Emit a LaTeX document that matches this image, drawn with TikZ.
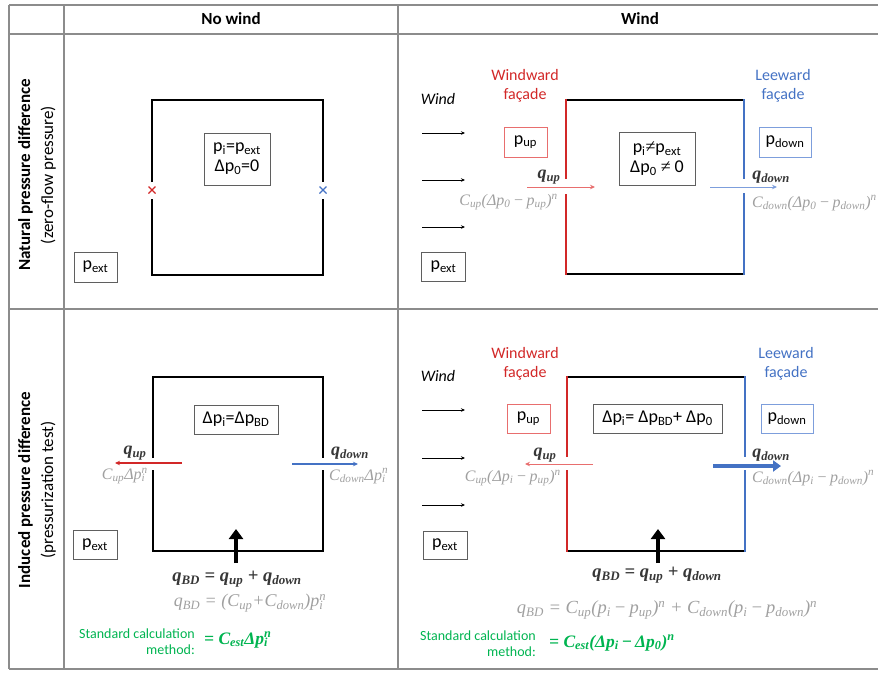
\documentclass[tikz,border=0pt]{standalone}
\usepackage[no-math]{fontspec}
\setmainfont{Carlito}
\newfontfamily\mserif{Liberation Serif}
\usetikzlibrary{arrows.meta}
\definecolor{tblgray}{RGB}{140,140,140}
\definecolor{wred}{RGB}{210,40,40}
\definecolor{lred}{RGB}{232,110,110}
\definecolor{wblue}{RGB}{68,114,196}
\definecolor{lblue}{RGB}{125,158,220}
\definecolor{fgray}{RGB}{160,160,160}
\definecolor{boxgray}{RGB}{95,95,95}
\definecolor{dgray}{RGB}{55,55,55}
\definecolor{sgreen}{RGB}{0,180,80}
\newcommand\psub[1]{\textsubscript{#1}}
\newcommand\psup[1]{\textsuperscript{#1}}
\newcommand\subsup[2]{\makebox[0pt][l]{\psub{#1}}\psup{#2}}
\newcommand\mminus{\,−\,}
\tikzset{
  tbl/.style={draw=tblgray, line width=1.3pt},
  wall/.style={line width=2pt, line join=miter},
  ibox/.style={draw=boxgray, line width=0.9pt, font=\fontsize{18}{20}\selectfont, align=center, inner sep=0pt},
  pbox/.style={ibox},
  hdr/.style={font=\fontsize{17}{20}\selectfont\bfseries},
  side/.style={rotate=90, align=center, font=\fontsize{17}{23}\selectfont},
  fac/.style={align=center, font=\fontsize{16}{19}\selectfont},
  windlab/.style={font=\fontsize{16}{19}\selectfont\itshape},
  fml/.style={text=fgray, font=\mserif\itshape\fontsize{16}{18}\selectfont, inner sep=0pt},
  bigfml/.style={fml, font=\mserif\itshape\fontsize{18.5}{20}\selectfont},
  qlab/.style={text=dgray, font=\mserif\bfseries\itshape\fontsize{18}{20}\selectfont, inner sep=0pt},
  qbd/.style={qlab, font=\mserif\bfseries\itshape\fontsize{18.5}{20}\selectfont},
  grn/.style={text=sgreen, font=\fontsize{14}{16}\selectfont, inner sep=0pt},
  grnf/.style={text=sgreen, font=\mserif\bfseries\itshape\fontsize{17.5}{19}\selectfont, inner sep=0pt},
  windarr/.style={line width=0.8pt, -{Stealth[length=4pt,width=3.5pt]}},
  thinarr/.style={line width=1pt, -{Stealth[length=5pt,width=4.5pt]}},
  bigarr/.style={line width=4pt, -{Triangle[length=10pt,width=14pt]}},
}
\begin{document}
\begin{tikzpicture}[x=1pt,y=-1pt]
\useasboundingbox (0,0) rectangle (878,673);
% ---------- table ----------
\draw[tbl] (9,5) -- (878,5);
\draw[tbl] (9,34) -- (878,34);
\draw[tbl] (9,309) -- (878,309);
\draw[tbl] (9,669) -- (878,669);
\draw[tbl] (9,5) -- (9,669);
\draw[tbl] (64,5) -- (64,669);
\draw[tbl] (398,5) -- (398,669);
\node[hdr] (hnowind) at (231,19) {No wind};
\node[hdr] (hwind) at (640,19) {Wind};
\node[side] (row1) at (37,175) {\textbf{Natural pressure difference}\\(zero-flow pressure)};
\node[side] (row2) at (37,490) {\textbf{Induced pressure difference}\\(pressurization test)};

% ---------- top-left: no wind, natural ----------
\draw[wall] (152,182) -- (152,100) -- (323,100) -- (323,182);
\draw[wall] (152,199) -- (152,275) -- (323,275) -- (323,199);
\draw[wred, line width=1.2pt] (148.5,186.5) -- (155.5,193.5) (148.5,193.5) -- (155.5,186.5);
\draw[wblue, line width=1.2pt] (319.5,186.5) -- (326.5,193.5) (319.5,193.5) -- (326.5,186.5);
\node[ibox, minimum width=66pt, minimum height=52pt] (tlin) at (237,159) {p\psub{i}=p\psub{ext}\\Δp\psub{0}=0};
\node[pbox, minimum width=43pt, minimum height=30pt] (tlext) at (95.5,267) {p\psub{ext}};

% ---------- top-right: wind, natural ----------
\node[windlab] (trwind) at (438,99) {Wind};
\coordinate (trw1a) at (422,133); \coordinate (trw1b) at (465,133);
\coordinate (trw2a) at (422,180); \coordinate (trw2b) at (465,180);
\coordinate (trw3a) at (422,227); \coordinate (trw3b) at (465,227);
\draw[windarr] (trw1a) -- (trw1b);
\draw[windarr] (trw2a) -- (trw2b);
\draw[windarr] (trw3a) -- (trw3b);
\node[pbox, minimum width=44pt, minimum height=29pt] (trext) at (443.5,266.5) {p\psub{ext}};
\node[fac, text=wred] (trwwd) at (525,86) {Windward\\façade};
\node[fac, text=wblue] (trlwd) at (783,86) {Leeward\\façade};
\draw[wall] (566,100) -- (744,100);
\draw[wall] (566,274) -- (744,274);
\draw[wall, wred] (566,99) -- (566,179);
\draw[wall, wred] (566,194) -- (566,275);
\draw[wall, wblue] (744,99) -- (744,179);
\draw[wall, wblue] (744,193) -- (744,275);
\node[pbox, draw=lred, minimum width=43pt, minimum height=30pt] (trup) at (525.5,142) {p\psub{up}};
\node[pbox, draw=lblue, minimum width=52pt, minimum height=30pt] (trdown) at (785,142) {p\psub{down}};
\node[ibox, minimum width=76pt, minimum height=53pt] (trin) at (657,158.5) {p\psub{i}{\mserif ≠}p\psub{ext}\\Δp\psub{0} {\mserif ≠} 0};
\coordinate (trqua) at (527,187); \coordinate (trqub) at (595,187);
\draw[thinarr, lred] (trqua) -- (trqub);
\coordinate (trqda) at (710,187); \coordinate (trqdb) at (777,187);
\draw[thinarr, lblue] (trqda) -- (trqdb);
\node[qlab] (trqu) at (549,177) {q\psub{up}};
\node[qlab] (trqd) at (771,177) {q\psub{down}};
\node[fml, anchor=east] (trfu) at (558,202) {C\psub{up}(Δp\psub{0}\mminus p\psub{up})\psup{n}};
\node[fml, anchor=west] (trfd) at (752,203) {C\psub{down}(Δp\psub{0}\mminus p\psub{down})\psup{n}};

% ---------- bottom-left: no wind, induced ----------
\draw[wall] (153,458) -- (153,377) -- (323,377) -- (323,458);
\draw[wall] (153,470) -- (153,551) -- (323,551) -- (323,470);
\node[ibox, minimum width=84pt, minimum height=29pt] (blin) at (236,419.5) {Δp\psub{i}=Δp\psub{BD}};
\node[pbox, minimum width=44pt, minimum height=29pt] (blext) at (95,544.5) {p\psub{ext}};
\coordinate (blqua) at (182,463); \coordinate (blqub) at (115,463);
\draw[thinarr, wred, line width=1.8pt] (blqua) -- (blqub);
\coordinate (blqda) at (292,464); \coordinate (blqdb) at (358,464);
\draw[thinarr, wblue, line width=1.5pt] (blqda) -- (blqdb);
\node[qlab] (blqu) at (135,453) {q\psub{up}};
\node[qlab] (blqd) at (350,453) {q\psub{down}};
\node[fml, anchor=east] (blfu) at (148,476) {C\psub{up}Δp\subsup{i}{n}};
\node[fml, anchor=west] (blfd) at (329,476) {C\psub{down}Δp\subsup{i}{n}};
\coordinate (blba) at (236,563); \coordinate (blbb) at (236,529);
\draw[bigarr] (blba) -- (blbb);
\node[qbd] (blqbd) at (237,579) {q\psub{BD} = q\psub{up} + q\psub{down}};
\node[bigfml, font=\mserif\itshape\fontsize{18}{20}\selectfont] (blqbd2) at (250,603) {q\psub{BD} = (C\psub{up}+C\psub{down})p\subsup{i}{n}};
\node[grn, anchor=east, align=right] (blstd) at (195,642) {Standard calculation\\method:};
\node[grnf, anchor=west] (blest) at (204,640) {= C\psub{est}Δp\subsup{i}{n}};

% ---------- bottom-right: wind, induced ----------
\node[windlab] (brwind) at (438,376) {Wind};
\coordinate (brw1a) at (422,410); \coordinate (brw1b) at (465,410);
\coordinate (brw2a) at (422,458); \coordinate (brw2b) at (465,458);
\coordinate (brw3a) at (422,505); \coordinate (brw3b) at (465,505);
\draw[windarr] (brw1a) -- (brw1b);
\draw[windarr] (brw2a) -- (brw2b);
\draw[windarr] (brw3a) -- (brw3b);
\node[pbox, minimum width=44pt, minimum height=28pt] (brext) at (445,545) {p\psub{ext}};
\node[fac, text=wred] (brwwd) at (525,364) {Windward\\façade};
\node[fac, text=wblue] (brlwd) at (786,364) {Leeward\\façade};
\draw[wall] (567,377) -- (745,377);
\draw[wall] (567,551) -- (745,551);
\draw[wall, wred] (567,376) -- (567,457);
\draw[wall, wred] (567,470) -- (567,552);
\draw[wall, wblue] (745,376) -- (745,457);
\draw[wall, wblue] (745,470) -- (745,552);
\node[pbox, draw=lred, minimum width=43pt, minimum height=29pt] (brup) at (528.5,418.5) {p\psub{up}};
\node[pbox, draw=lblue, minimum width=52pt, minimum height=29pt] (brdown) at (787,418.5) {p\psub{down}};
\node[ibox, minimum width=129pt, minimum height=29pt] (brin) at (657.5,418.5) {Δp\psub{i}= Δp\psub{BD}+ Δp\psub{0}};
\coordinate (brqua) at (593,464); \coordinate (brqub) at (525,464);
\draw[thinarr, lred] (brqua) -- (brqub);
\coordinate (brqda) at (713,466); \coordinate (brqdb) at (781,466);
\draw[wblue, line width=3.5pt, -{Triangle[length=8pt,width=11pt]}] (brqda) -- (brqdb);
\node[qlab] (brqu) at (545,455) {q\psub{up}};
\node[qlab] (brqd) at (771,455) {q\psub{down}};
\node[fml, anchor=east] (brfu) at (561,478) {C\psub{up}(Δp\psub{i}\mminus p\psub{up})\psup{n}};
\node[fml, anchor=west] (brfd) at (752,478) {C\psub{down}(Δp\psub{i}\mminus p\psub{down})\psup{n}};
\coordinate (brba) at (658,563); \coordinate (brbb) at (658,529);
\draw[bigarr] (brba) -- (brbb);
\node[qbd] (brqbd) at (657,575) {q\psub{BD} = q\psub{up} + q\psub{down}};
\node[bigfml] (brqbd2) at (667,610) {q\psub{BD} = C\psub{up}(p\psub{i}\mminus p\psub{up})\psup{n} + C\psub{down}(p\psub{i}\mminus p\psub{down})\psup{n}};
\node[grn, anchor=east, align=right] (brstd) at (536,644) {Standard calculation\\method:};
\node[grnf, anchor=west] (brest) at (549,643) {= C\psub{est}(Δp\psub{i}\mminus Δp\psub{0})\psup{n}};
\end{tikzpicture}
\end{document}
